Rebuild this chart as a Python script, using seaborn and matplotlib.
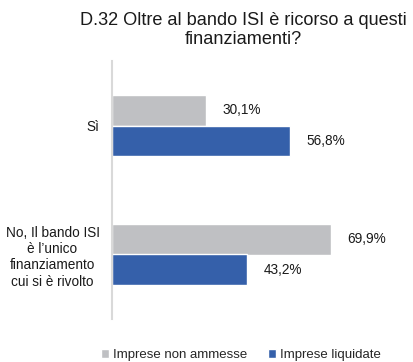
import matplotlib
matplotlib.use("Agg")
import matplotlib.pyplot as plt
import seaborn as sns
import pandas as pd

categories = ["Sì", "No, Il bando ISI\nè l’unico\nfinanziamento\ncui si è rivolto"]
series_names = ["Imprese non ammesse", "Imprese liquidate"]
non_ammesse = [30.1, 69.9]
liquidate = [56.8, 43.2]
colors = ["#bfc0c3", "#3560aa"]

df = pd.DataFrame({
    "categoria": categories * 2,
    "serie": [series_names[0]] * 2 + [series_names[1]] * 2,
    "valore": non_ammesse + liquidate,
})

sns.set_theme(style="white")
plt.rcParams["font.family"] = ["Liberation Sans", "DejaVu Sans"]

fig = plt.figure(figsize=(4.13, 3.62), dpi=100)
ax = fig.add_axes([112 / 413, 1 - 319 / 362, 282 / 413, 258 / 362])

sns.barplot(data=df, y="categoria", x="valore", hue="serie", order=categories,
            hue_order=series_names, palette=colors, orient="h", width=0.475,
            saturation=1, ax=ax, legend=True)

ax.set_xlim(0, 90)
ax.set_xlabel("")
ax.set_ylabel("")
ax.set_xticks([])
for s in ["top", "right", "bottom"]:
    ax.spines[s].set_visible(False)
ax.spines["left"].set_color("#d9d9d9")
ax.spines["left"].set_linewidth(1.5)
ax.tick_params(axis="y", length=0, pad=9, labelsize=9.8, labelcolor="#1a1a1a")
for lbl in ax.get_yticklabels():
    lbl.set_multialignment("center")
    lbl.set_linespacing(1.22)

for cont in ax.containers:
    ax.bar_label(cont, labels=[f"{v:.1f}".replace(".", ",") + "%" for v in cont.datavalues],
                 padding=12, fontsize=9.8, color="#1a1a1a")

handles, labels = ax.get_legend_handles_labels()
ax.get_legend().remove()
fig.legend(handles, labels, loc="center", bbox_to_anchor=(241 / 413, 1 - 355 / 362),
           ncol=2, frameon=False, fontsize=9.5, handlelength=0.6, handleheight=0.6,
           handletextpad=0.3, columnspacing=1.6, borderpad=0)

fig.text(243 / 413, 1 - 30 / 362, "D.32 Oltre al bando ISI è ricorso a questi\nfinanziamenti?",
         ha="center", va="center", fontsize=13.1, color="#1a1a1a", linespacing=1.2)

fig.savefig("out.png", dpi=100)
